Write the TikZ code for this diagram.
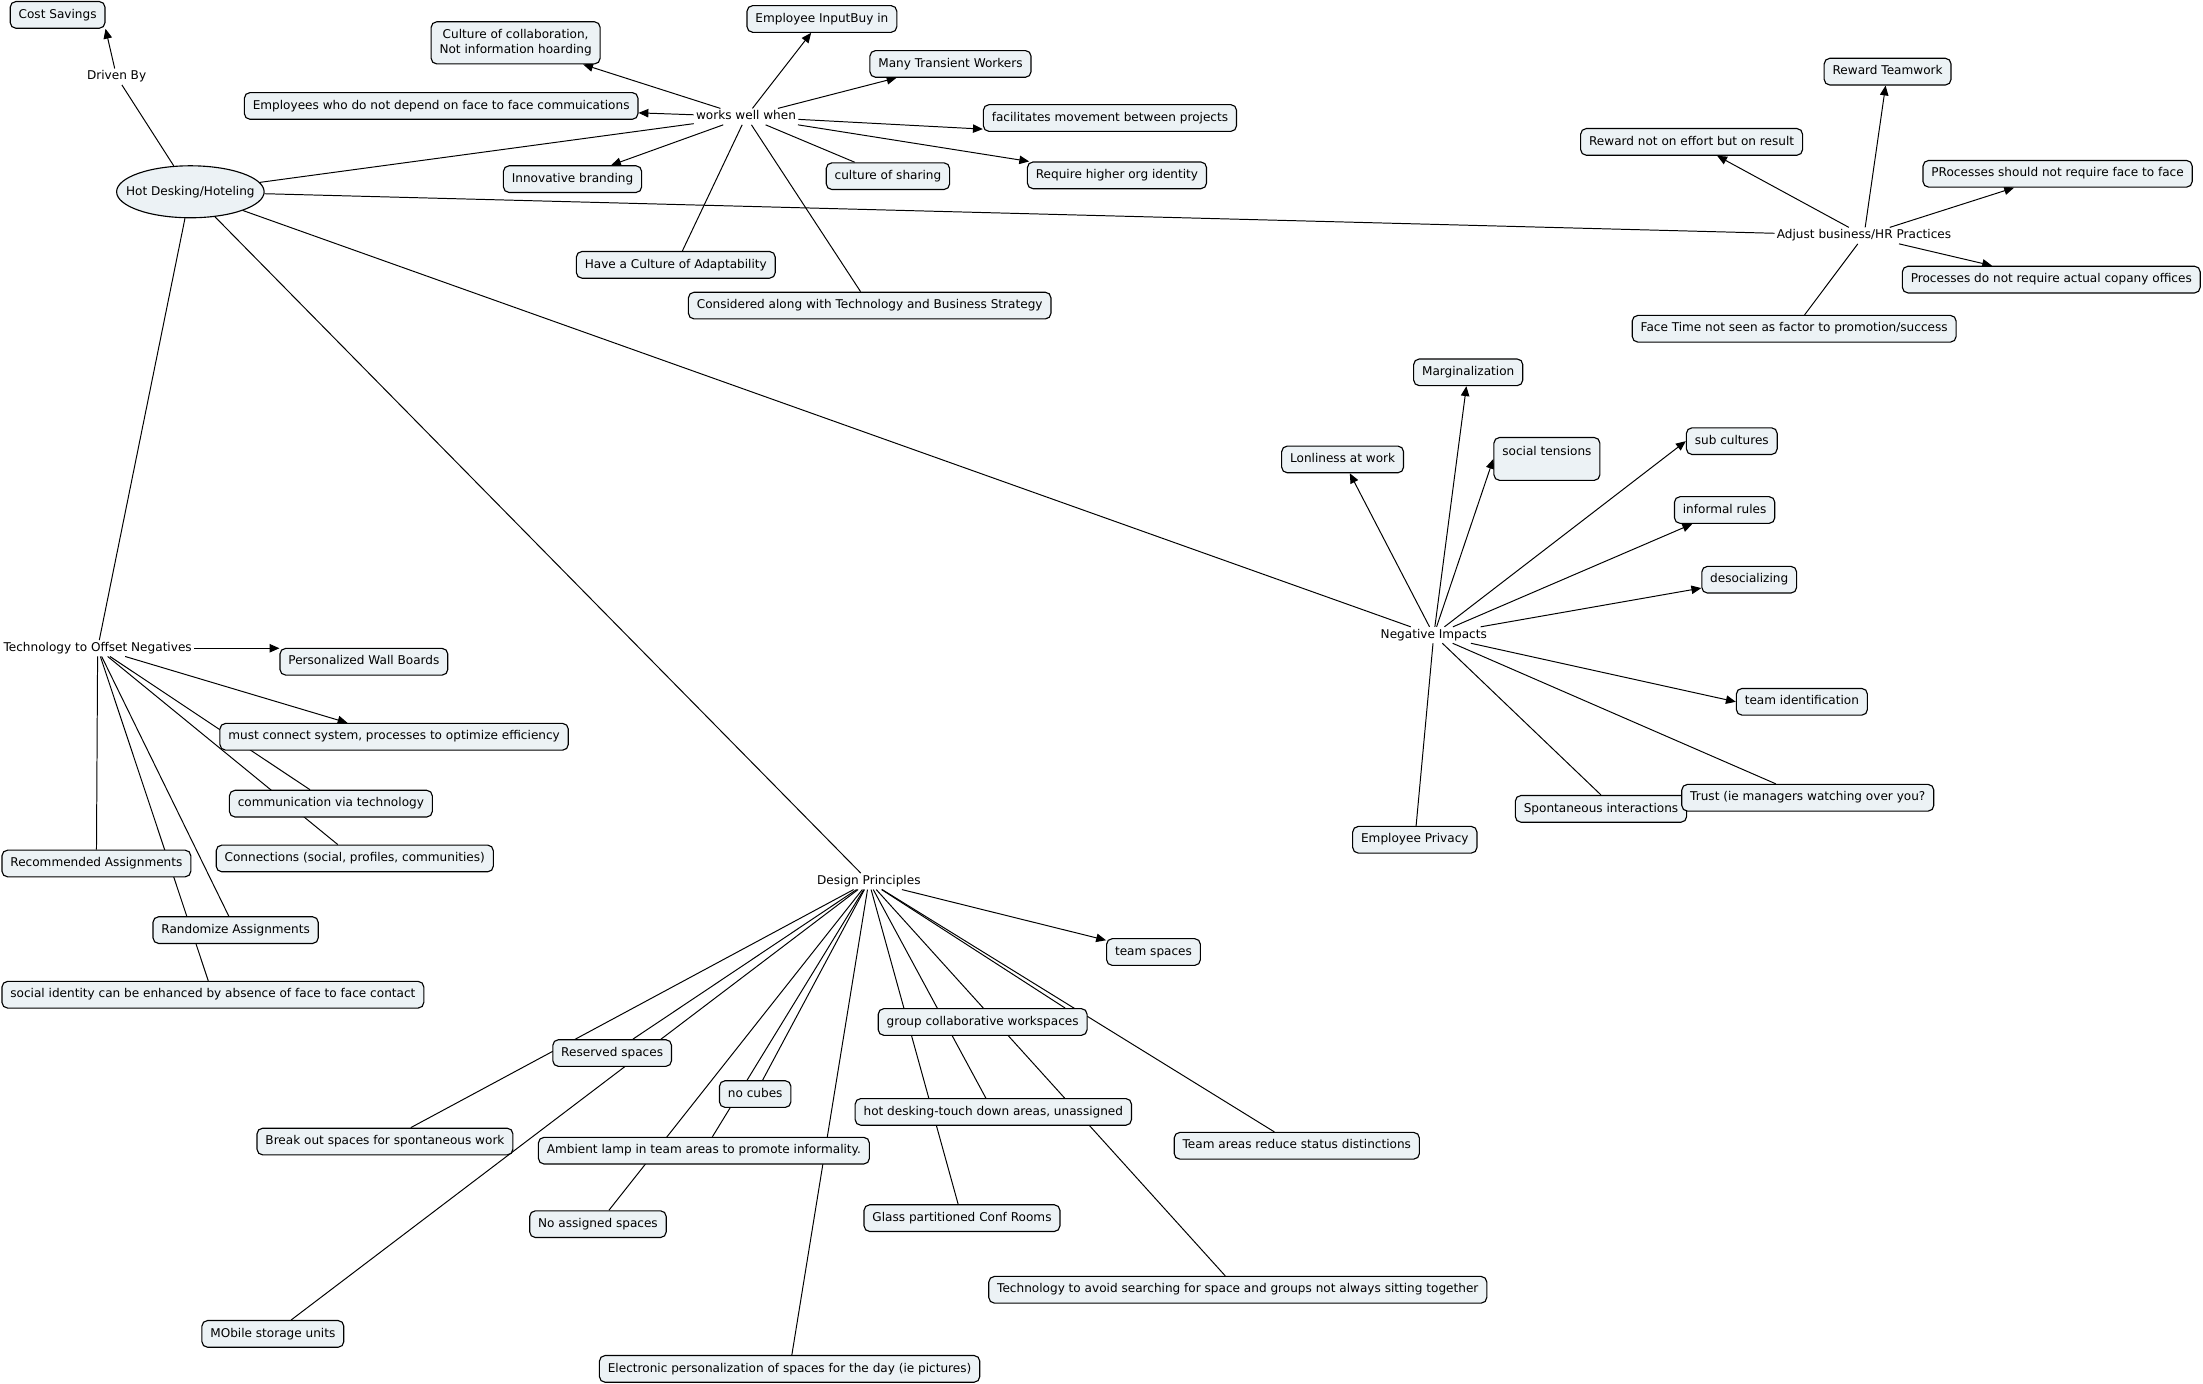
\documentclass[tikz,border=0pt]{standalone}
\usepackage{fontspec}
\setmainfont{DejaVu Sans}
\usepackage{xcolor}
\usetikzlibrary{arrows.meta,backgrounds,shapes.geometric}
\definecolor{cmapfill}{RGB}{236,242,245}

\begin{document}
\begin{tikzpicture}[
  x=1pt,y=-1pt,
  font=\fontsize{8.6}{10.3}\selectfont,
  >={Triangle[length=7pt,width=6pt]},
  concept/.style={draw,line width=0.8pt,fill=cmapfill,rounded corners=4pt,inner xsep=6pt,inner ysep=0pt,minimum height=19pt,text height=6.4pt,text depth=1.9pt},
  oval/.style={draw,line width=0.8pt,fill=cmapfill,ellipse,inner sep=0pt,minimum width=105pt,minimum height=37pt},
  linkph/.style={inner sep=1.5pt,text height=6.4pt,text depth=1.9pt},
  cline/.style={line width=0.7pt},
]
\path[use as bounding box] (0,0) rectangle (1568,985);

\node[oval] (hot) at (135.5,136.5) {\makebox[60pt]{Hot Desking/Hoteling}};
\node[concept] (cost) at (41,10.6) {Cost Savings};
\node[linkph] (driven) at (83,54.6) {Driven By};

\node[linkph] (works) at (531,83) {works well when};
\node[concept,align=center,text height={},text depth={},inner ysep=3pt,minimum height=30pt] (ccol) at (367,30.5) {Culture of collaboration,\\Not information hoarding};
\node[concept] (emp) at (314,75.4) {Employees who do not depend on face to face commuications};
\node[concept] (inb) at (407.5,127.5) {Innovative branding};
\node[concept] (eib) at (585,13.5) {Employee InputBuy in};
\node[concept] (mtw) at (676.5,45.5) {Many Transient Workers};
\node[concept] (fmp) at (790,84) {facilitates movement between projects};
\node[concept] (cos) at (632,125.4) {culture of sharing};
\node[concept] (rho) at (795,124.8) {Require higher org identity};
\node[concept] (adapt) at (481,188.5) {Have a Culture of Adaptability};
\node[concept] (cons) at (619,217.5) {Considered along with Technology and Business Strategy};

\node[linkph] (adjust) at (1326.7,167.7) {Adjust business/HR Practices};
\node[concept] (rtw) at (1343.5,51) {Reward Teamwork};
\node[concept] (rne) at (1204,101) {Reward not on effort but on result};
\node[concept] (pns) at (1464.5,123.7) {PRocesses should not require face to face};
\node[concept] (pdn) at (1460,199) {Processes do not require actual copany offices};
\node[concept] (fts) at (1277,234) {Face Time not seen as factor to promotion/success};

\node[linkph] (neg) at (1020.5,452) {Negative Impacts};
\node[concept] (marg) at (1045,265) {Marginalization};
\node[concept,anchor=north,inner ysep=6.6pt,text depth=10.9pt] (st) at (1101,311) {social tensions};
\node[concept] (lon) at (955.6,327) {Lonliness at work};
\node[concept] (subc) at (1232.6,314) {sub cultures};
\node[concept] (infr) at (1227.5,363) {informal rules};
\node[concept] (desoc) at (1245,412.6) {desocializing };
\node[concept] (ti) at (1282.5,499.5) {team identification};
\node[concept] (spon) at (1139.5,575.7) {Spontaneous interactions};
\node[concept] (trust) at (1286.7,567.8) {Trust (ie managers watching over you?};
\node[concept] (priv) at (1007,597.7) {Employee Privacy};

\node[linkph] (tech) at (69.5,461.4) {Technology to Offset Negatives};
\node[concept] (pwb) at (259,471) {Personalized Wall Boards};
\node[concept] (mcs) at (280.5,524.4) {must connect system, processes to optimize efficiency};
\node[concept] (cvt) at (235.5,572) {communication via technology};
\node[concept] (cnx) at (252.5,611) {Connections (social, profiles, communities)};
\node[concept,anchor=west] (rec) at (1,614.6) {Recommended Assignments};
\node[concept] (rand) at (167.7,662) {Randomize Assignments};
\node[concept,anchor=west] (sid) at (1,708) {social identity can be enhanced by absence of face to face contact};

\node[linkph] (design) at (618.4,627.3) {Design Principles};
\node[concept] (tsp) at (821,677.6) {team spaces};
\node[concept] (gcw) at (699.4,727.4) {group collaborative workspaces};
\node[concept] (res) at (435.7,749.5) {Reserved spaces};
\node[concept] (nocub) at (537.5,778.7) {no cubes};
\node[concept] (hdt) at (707,791.4) {hot desking-touch down areas, unassigned};
\node[concept] (amb) at (501,819) {Ambient lamp in team areas to promote informality.};
\node[concept] (tar) at (923,815.5) {Team areas reduce status distinctions};
\node[concept] (brk) at (274,812.5) {Break out spaces for spontaneous work};
\node[concept] (noas) at (425.6,871.3) {No assigned spaces};
\node[concept] (glass) at (684.7,867) {Glass partitioned Conf Rooms};
\node[concept] (tav) at (881,918) {Technology to avoid searching for space and groups not always sitting together};
\node[concept] (mob) at (194.2,949.4) {MObile storage units};
\node[concept] (elec) at (562,974.3) {Electronic personalization of spaces for the day (ie pictures)};

\begin{scope}[on background layer]
\draw[cline] (hot) -- (driven);
\draw[cline,->] (driven) -- (cost.south east);
\draw[cline] (hot) -- (works);
\draw[cline] (hot) -- (adjust);
\draw[cline] (hot) -- (neg);
\draw[cline] (hot) -- (tech);
\draw[cline] (hot) -- (design);

\draw[cline,->] (works) -- (ccol);
\draw[cline,->] (works) -- (emp);
\draw[cline,->] (works) -- (inb);
\draw[cline,->] (works) -- (eib);
\draw[cline,->] (works) -- (mtw);
\draw[cline,->] (works) -- ([yshift=2pt]fmp.south west);
\draw[cline,->] (works) -- (rho);
\draw[cline] (cos) -- (works);
\draw[cline] (adapt) -- (works);
\draw[cline] (cons) -- (works);

\draw[cline,->] (adjust) -- (rne);
\draw[cline,->] (adjust) -- (rtw);
\draw[cline,->] (adjust) -- (pns);
\draw[cline,->] (adjust) -- (pdn);
\draw[cline] (fts) -- (adjust);

\draw[cline,->] (neg) -- (lon);
\draw[cline,->] (neg) -- (marg);
\draw[cline,->] (neg) -- (st.west);
\draw[cline,->] (neg) -- (subc.west);
\draw[cline,->] (neg) -- (infr);
\draw[cline,->] (neg) -- (desoc);
\draw[cline,->] (neg) -- (ti.west);
\draw[cline] (trust) -- (neg);
\draw[cline] (spon.north) -- (neg);
\draw[cline] (priv) -- (neg);

\draw[cline,->] (tech) -- (tech -| pwb.west);
\draw[cline,->] (tech) -- (mcs);
\draw[cline] (tech) -- (cvt);
\draw[cline] (tech) -- (cnx);
\draw[cline] (tech) -- (rec);
\draw[cline] (tech) -- (rand);
\draw[cline] (tech) -- (sid);

\draw[cline,->] (design) -- (tsp);
\draw[cline] (design) -- (brk);
\draw[cline] (design) -- (res);
\draw[cline] (design) -- (mob);
\draw[cline] (design) -- (noas);
\draw[cline] (design) -- (amb);
\draw[cline] (design) -- (nocub);
\draw[cline] (design) -- (elec);
\draw[cline] (design) -- (glass);
\draw[cline] (design) -- (hdt);
\draw[cline] (design) -- (tav);
\draw[cline] (design) -- ([xshift=-16pt]gcw.north east);
\draw[cline] (design) -- (tar);
\end{scope}
\end{tikzpicture}
\end{document}
